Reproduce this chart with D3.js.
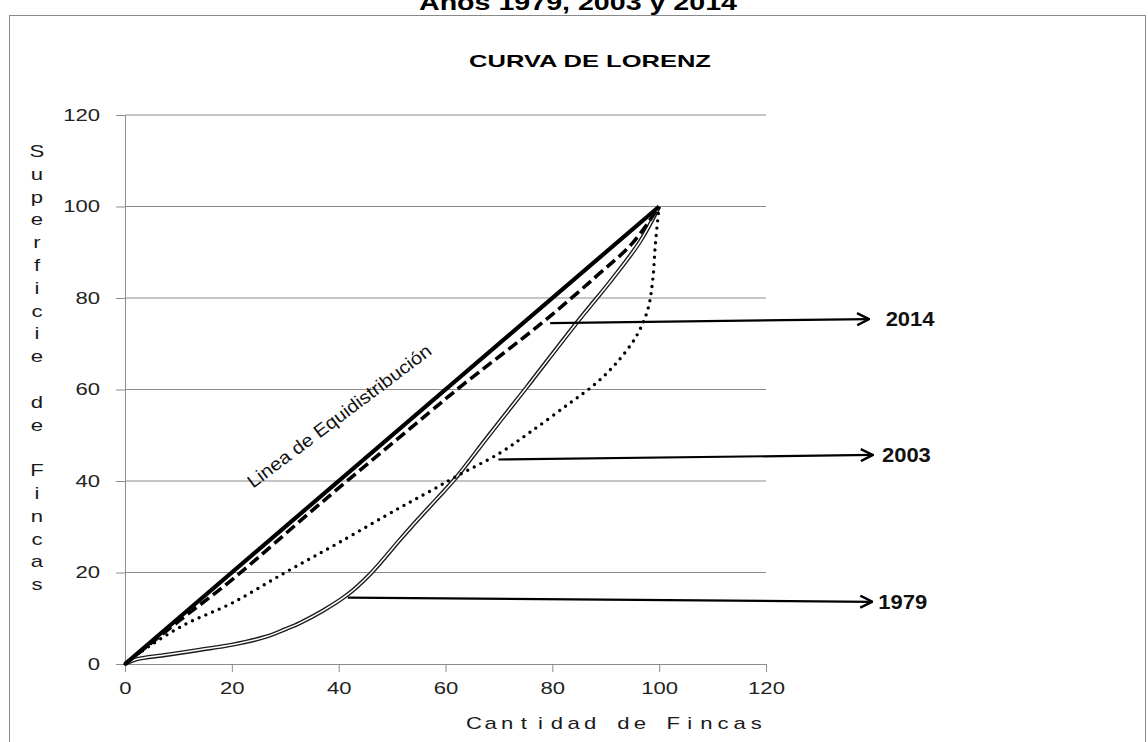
<!DOCTYPE html>
<html>
<head>
<meta charset="utf-8">
<script src="https://cdn.jsdelivr.net/npm/d3@7"></script>
<style>
  body { margin: 0; background: #fff; }
  svg { display: block; font-family: "Liberation Sans", Arial, sans-serif; }
  .grid line { stroke: #8c8c8c; stroke-width: 1; }
  .axis path, .axis line { stroke: #8c8c8c; }
  .axis text { font-size: 16px; fill: #222; }
</style>
</head>
<body>
<svg class="js-render-chart" width="1148" height="742"></svg>
<script>
"use strict";

//data

const equiX = [0, 100];
const equiY = [0, 100];

const fincas2014 = [0, 10, 20, 37, 57, 63, 78, 88, 95, 100];
const sup2014 = [0, 9.3, 18.4, 35.5, 55, 60.8, 74.5, 84.5, 92, 100];

const fincas2003 = [0, 3.4, 11, 20, 30, 40, 51.5, 57, 62, 70, 76, 83, 88, 92, 95.8, 97.9, 98.8, 99.3, 100];
const sup2003 = [0, 3, 8.5, 13.3, 20, 26.5, 34.2, 37.7, 41, 46, 50.8, 56.8, 61.2, 65.8, 71.8, 77.6, 84, 92, 100];

const fincas1979 = [0, 2, 7.8, 14, 20, 26.5, 30, 32.8, 37, 41.7, 46, 51.5, 55, 58.3, 61.8, 68, 75.2, 84.5, 91.1, 96.4, 100];
const sup1979 = [0, 1, 2, 3.1, 4.2, 6, 7.6, 9, 11.6, 15.2, 19.8, 27.2, 31.8, 36, 40.5, 49.8, 60.5, 74.5, 84, 92.3, 100];

const tickValues = [0, 20, 40, 60, 80, 100, 120];

// arrow annotations: year, start (x, y), end (x, y)
const arrowYears = ["2014", "2003", "1979"];
const arrowFrom = [[79.6, 74.5], [69.9, 44.7], [41.7, 14.5]];
const arrowTo = [[139.3, 75.4], [140.0, 45.7], [139.9, 13.6]];
const labelX = [142.4, 141.7, 141.0];

const yTitle = "Superficie de Fincas";
const xTitle = "Cantidad de Fincas";

//helpers

const zip = (xs, ys) => xs.map((v, i) => [v, ys[i]]);

const stretch = (sel, k) => sel.each(function () {
  const w = this.getComputedTextLength();
  if (w > 0) d3.select(this).attr("textLength", w * k).attr("lengthAdjust", "spacingAndGlyphs");
});

//svg

const svg = d3.select(".js-render-chart");

svg.append("rect")
  .attr("width", 1148)
  .attr("height", 742)
  .attr("fill", "#fff");

svg.append("rect")
  .attr("x", 9.5)
  .attr("y", 15.5)
  .attr("width", 1136)
  .attr("height", 760)
  .attr("fill", "none")
  .attr("stroke", "#8a8a8a");

svg.append("text")
  .attr("x", 578)
  .attr("y", 10)
  .attr("text-anchor", "middle")
  .style("font-size", "22px")
  .style("font-weight", "bold")
  .text("Años 1979, 2003 y 2014")
  .call(stretch, 1.3);

svg.append("text")
  .attr("x", 590)
  .attr("y", 67)
  .attr("text-anchor", "middle")
  .style("font-size", "17px")
  .style("font-weight", "bold")
  .text("CURVA DE LORENZ")
  .call(stretch, 1.5);

//scales

const x = d3.scaleLinear().domain([0, 120]).range([125, 766]);
const y = d3.scaleLinear().domain([0, 120]).range([664, 115]);

//grid

svg.append("g")
  .attr("class", "grid")
  .selectAll("line")
  .data(tickValues.slice(1))
  .join("line")
  .attr("x1", x(0))
  .attr("x2", x(120))
  .attr("y1", d => y(d))
  .attr("y2", d => y(d));

//axes

const xa = d3.axisBottom(x).tickValues(tickValues).tickSize(8).tickSizeOuter(0).tickPadding(11);
const ya = d3.axisLeft(y).tickValues(tickValues).tickSize(9).tickSizeOuter(0).tickPadding(16);

svg.append("g")
  .attr("class", "axis")
  .attr("transform", `translate(0, ${y(0)})`)
  .call(xa)
  .selectAll("text")
  .call(stretch, 1.38);

svg.append("g")
  .attr("class", "axis")
  .attr("transform", `translate(${x(0)}, 0)`)
  .call(ya)
  .selectAll("text")
  .call(stretch, 1.38);

svg.selectAll(".axis .domain").attr("stroke", "#8c8c8c");

//axis titles (one glyph per slot, as in the spaced-out original)

svg.append("g")
  .selectAll("text")
  .data(yTitle.split(""))
  .join("text")
  .attr("x", 37)
  .attr("y", (d, i) => 157 + i * 22.8)
  .attr("text-anchor", "middle")
  .style("font-size", "17px")
  .style("fill", "#1a1a1a")
  .text(d => d)
  .call(stretch, 1.3);

svg.append("g")
  .selectAll("text")
  .data(xTitle.split(""))
  .join("text")
  .attr("x", (d, i) => 474 + i * 16.6)
  .attr("y", 729)
  .attr("text-anchor", "middle")
  .style("font-size", "17px")
  .style("fill", "#1a1a1a")
  .text(d => d)
  .call(stretch, 1.3);

//curves

const line = d3.line()
  .x(d => x(d[0]))
  .y(d => y(d[1]))
  .curve(d3.curveCatmullRom.alpha(0.5));

const plot = svg.append("g");

plot.append("path")
  .attr("d", line(zip(fincas1979, sup1979)))
  .attr("fill", "none")
  .attr("stroke", "#1a1a1a")
  .attr("stroke-width", 4.2);

plot.append("path")
  .attr("d", line(zip(fincas1979, sup1979)))
  .attr("fill", "none")
  .attr("stroke", "#fff")
  .attr("stroke-width", 1.5);

plot.append("path")
  .attr("d", line(zip(fincas2003, sup2003)))
  .attr("fill", "none")
  .attr("stroke", "#000")
  .attr("stroke-width", 3.4)
  .attr("stroke-linecap", "round")
  .attr("stroke-dasharray", "0 7.3");

plot.append("path")
  .attr("d", line(zip(fincas2014, sup2014)))
  .attr("fill", "none")
  .attr("stroke", "#000")
  .attr("stroke-width", 3.6)
  .attr("stroke-dasharray", "11 5");

plot.append("path")
  .attr("d", line(zip(equiX, equiY)))
  .attr("fill", "none")
  .attr("stroke", "#000")
  .attr("stroke-width", 4.2);

//equidistribution label

svg.append("text")
  .attr("transform", "translate(343, 421) rotate(-37)")
  .attr("text-anchor", "middle")
  .style("font-size", "18px")
  .style("fill", "#111")
  .text("Linea de Equidistribución")
  .call(stretch, 1.12);

//arrows

svg.append("defs")
  .append("marker")
  .attr("id", "chev")
  .attr("viewBox", "0 0 14 14")
  .attr("refX", 13)
  .attr("refY", 7)
  .attr("markerWidth", 14)
  .attr("markerHeight", 14)
  .attr("markerUnits", "userSpaceOnUse")
  .attr("orient", "auto")
  .append("path")
  .attr("d", "M1,1 L13,7 L1,13")
  .attr("fill", "none")
  .attr("stroke", "#000")
  .attr("stroke-width", 2.4);

const arrows = svg.append("g");

arrowYears.forEach((yr, i) => {
  arrows.append("line")
    .attr("x1", x(arrowFrom[i][0]))
    .attr("y1", y(arrowFrom[i][1]))
    .attr("x2", x(arrowTo[i][0]))
    .attr("y2", y(arrowTo[i][1]))
    .attr("stroke", "#000")
    .attr("stroke-width", 2.2)
    .attr("marker-end", "url(#chev)");

  arrows.append("text")
    .attr("x", x(labelX[i]))
    .attr("y", y(arrowTo[i][1]))
    .attr("dy", "0.36em")
    .style("font-size", "20px")
    .style("font-weight", "bold")
    .style("fill", "#111")
    .text(yr)
    .call(stretch, 1.1);
});
</script>
</body>
</html>
